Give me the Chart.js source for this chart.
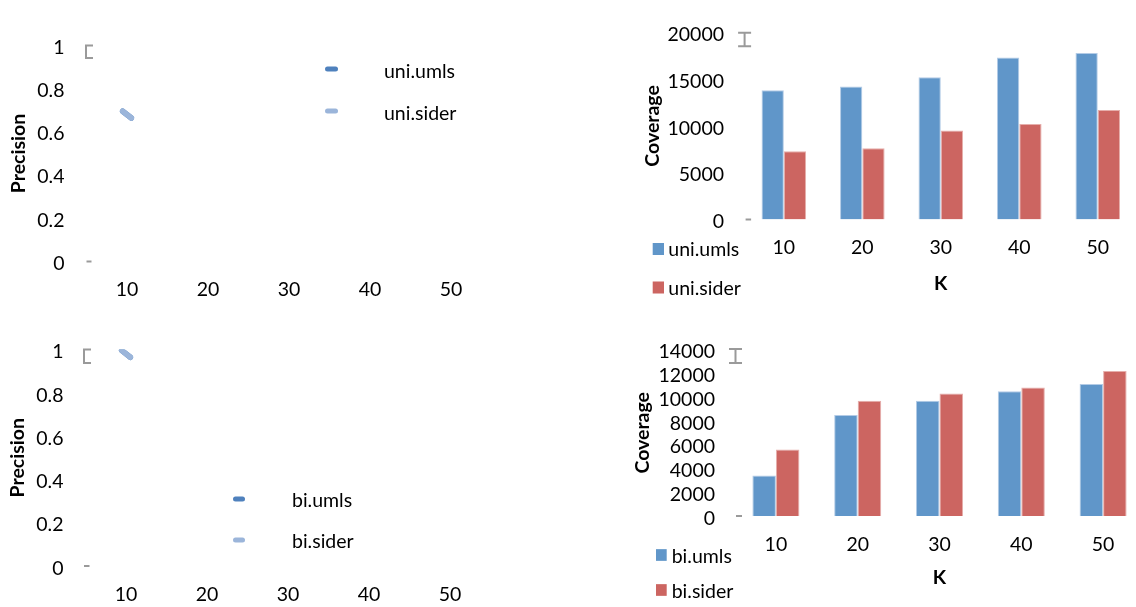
<!DOCTYPE html>
<html>
<head>
<meta charset="utf-8">
<title>Precision and Coverage by K</title>
<script src="https://cdn.jsdelivr.net/npm/chart.js@4.4.1/dist/chart.umd.min.js"></script>
<style>
  html, body { margin: 0; padding: 0; background: #fff; width: 1136px; height: 607px; overflow: hidden; }
  .panel { position: absolute; }
  .panel canvas { display: block; }
</style>
</head>
<body>
<div class="panel" style="left:0px;top:0px"><canvas id="uniPrecision" width="520" height="305"></canvas></div>
<div class="panel" style="left:600px;top:0px"><canvas id="uniCoverage" width="540" height="305"></canvas></div>
<div class="panel" style="left:0px;top:305px"><canvas id="biPrecision" width="520" height="302"></canvas></div>
<div class="panel" style="left:590px;top:305px"><canvas id="biCoverage" width="560" height="302"></canvas></div>

<script>
// ---- data ----
const kLabels = ['10', '20', '30', '40', '50'];

const uniUmlsPrecision = [0.68, null, null, null, null];
const uniSiderPrecision = [0.68, null, null, null, null];
const biUmlsPrecision = [0.98, null, null, null, null];
const biSiderPrecision = [0.98, null, null, null, null];

const uniUmlsCoverage = [13800, 14200, 15200, 17300, 17800];
const uniSiderCoverage = [7300, 7600, 9500, 10200, 11700];
const biUmlsCoverage = [3400, 8500, 9700, 10500, 11100];
const biSiderCoverage = [5600, 9700, 10300, 10800, 12200];

const precisionAxis = { min: 0, max: 1, step: 0.2 };
const uniCoverageAxis = { min: 0, max: 20000, step: 5000 };
const biCoverageAxis = { min: 0, max: 14000, step: 2000 };

// ---- styling ----
const FONT = 'Lato';
const TICK_SIZE = 19.5;
const DARK_BLUE = '#4f81bd';
const LIGHT_BLUE = '#9bb5da';
const BAR_BLUE = '#6096c9';
const BAR_BLUE_EDGE = '#b3cbe6';
const BAR_RED = '#cc6561';
const BAR_RED_EDGE = '#e6aeab';
const STUB_GRAY = '#9a9a9a';

Chart.defaults.font.family = FONT;
Chart.defaults.color = '#000';

// Short gray axis remnants: a cap at the top of the value axis and a tick at zero.
const axisStub = {
  id: 'axisStub',
  afterDraw(chart, args, o) {
    if (!o || !o.shape) return;
    const { ctx, chartArea: a } = chart;
    const x = a.left + o.dx;
    const y0 = a.top + o.y0;
    const y1 = a.top + o.y1;
    ctx.save();
    ctx.strokeStyle = STUB_GRAY;
    ctx.lineWidth = 2;
    ctx.lineCap = 'butt';
    ctx.beginPath();
    if (o.shape === 'bracket') {
      ctx.moveTo(x + o.cap, y0);
      ctx.lineTo(x, y0);
      ctx.lineTo(x, y1);
      ctx.lineTo(x + o.cap, y1);
    } else {
      ctx.moveTo(x - o.cap, y0); ctx.lineTo(x + o.cap, y0);
      ctx.moveTo(x, y0); ctx.lineTo(x, y1);
      ctx.moveTo(x - o.cap, y1); ctx.lineTo(x + o.cap, y1);
    }
    ctx.stroke();
    const yz = chart.scales.y.getPixelForValue(0);
    ctx.beginPath();
    ctx.moveTo(a.left + o.tick[0], yz);
    ctx.lineTo(a.left + o.tick[1], yz);
    ctx.stroke();
    ctx.restore();
  }
};

// Stacked legend drawn at a fixed spot of the canvas.
const panelLegend = {
  id: 'panelLegend',
  afterDraw(chart, args, o) {
    if (!o || o.x === undefined) return;
    const ctx = chart.ctx;
    ctx.save();
    chart.data.datasets.forEach((ds, i) => {
      const cy = o.y + i * o.gap;
      if (o.marker === 'line') {
        ctx.strokeStyle = ds.borderColor;
        ctx.lineWidth = 5;
        ctx.lineCap = 'round';
        ctx.beginPath();
        ctx.moveTo(o.x + 2.5, cy);
        ctx.lineTo(o.x + o.w - 2.5, cy);
        ctx.stroke();
      } else {
        ctx.fillStyle = ds.backgroundColor;
        ctx.fillRect(o.x, cy - o.h / 2, o.w, o.h);
      }
      ctx.fillStyle = '#000';
      ctx.font = `${TICK_SIZE}px ${FONT}`;
      ctx.textAlign = 'left';
      ctx.textBaseline = 'middle';
      ctx.fillText(ds.label, o.textX, cy + o.textDy);
    });
    ctx.restore();
  }
};

// Rounded ends for the short line markers.
const roundCaps = {
  id: 'roundCaps',
  beforeDatasetsDraw(chart) { chart.ctx.lineCap = 'round'; },
  afterDatasetsDraw(chart) { chart.ctx.lineCap = 'butt'; }
};

Chart.register(axisStub, panelLegend, roundCaps);

function buildScales(area, W, H, axis, opt) {
  return {
    x: {
      type: 'category',
      offset: true,
      grid: { display: false, drawTicks: false },
      border: { display: false },
      ticks: { padding: opt.xPad, font: { size: TICK_SIZE }, maxRotation: 0, autoSkip: false },
      title: opt.xTitle
        ? { display: true, text: opt.xTitle, font: { size: TICK_SIZE, weight: 'bold' }, padding: { top: 0, bottom: opt.xTitlePad } }
        : { display: false },
      afterFit(s) { s.height = H - area.b; }
    },
    y: {
      min: axis.min,
      max: axis.max,
      grid: { display: false, drawTicks: false },
      border: { display: false },
      ticks: {
        stepSize: axis.step,
        autoSkip: false,
        padding: opt.yPad,
        labelOffset: opt.yLabelOffset,
        font: { size: TICK_SIZE },
        callback: v => String(Math.round(v * 1000) / 1000)
      },
      title: { display: true, text: opt.yTitle, font: { size: TICK_SIZE, weight: 'bold' }, padding: { top: opt.yTitlePad, bottom: 0 } },
      afterFit(s) { s.width = area.l; }
    }
  };
}

function baseOptions(area, W, H, axis, opt) {
  return {
    responsive: false,
    animation: false,
    events: [],
    layout: { padding: { left: 0, top: area.t, right: W - area.r, bottom: 0 } },
    scales: buildScales(area, W, H, axis, opt),
    plugins: {
      legend: { display: false },
      tooltip: { enabled: false },
      axisStub: opt.stub,
      panelLegend: opt.legend
    }
  };
}

function precisionChart(id, W, H, area, names, values, opt) {
  // the second series is drawn over the first
  const mk = (label, data, color, order) => ({
    label, data, order,
    borderColor: color,
    backgroundColor: color,
    showLine: false,
    pointStyle: 'line',
    pointRadius: 5.5,
    pointBorderWidth: 5.5,
    pointRotation: 38
  });
  return new Chart(document.getElementById(id), {
    type: 'line',
    data: {
      labels: kLabels,
      datasets: [mk(names[0], values[0], DARK_BLUE, 1), mk(names[1], values[1], LIGHT_BLUE, 0)]
    },
    options: baseOptions(area, W, H, precisionAxis, opt)
  });
}

function coverageChart(id, W, H, area, names, values, axis, catPct, opt) {
  const mk = (label, data, fill, edge) => ({
    label, data,
    backgroundColor: fill,
    borderColor: edge,
    borderWidth: 1,
    categoryPercentage: catPct,
    barPercentage: 1
  });
  return new Chart(document.getElementById(id), {
    type: 'bar',
    data: {
      labels: kLabels,
      datasets: [mk(names[0], values[0], BAR_BLUE, BAR_BLUE_EDGE), mk(names[1], values[1], BAR_RED, BAR_RED_EDGE)]
    },
    options: baseOptions(area, W, H, axis, opt)
  });
}

function drawAll() {
  precisionChart('uniPrecision', 520, 305, { l: 86.5, t: 45.5, r: 491.5, b: 261.5 },
    ['uni.umls', 'uni.sider'], [uniUmlsPrecision, uniSiderPrecision], {
      xPad: 16.5, yPad: 22, yLabelOffset: 2, yTitle: 'Precision', yTitlePad: 7.5,
      stub: { shape: 'bracket', dx: -0.5, y0: 0, y1: 12.5, cap: 7, tick: [0, 5] },
      legend: { marker: 'line', x: 325, w: 13, y: 69, gap: 42, textX: 384, textDy: 2.5 }
    });

  precisionChart('biPrecision', 520, 302, { l: 85.5, t: 44.5, r: 490.5, b: 261 },
    ['bi.umls', 'bi.sider'], [biUmlsPrecision, biSiderPrecision], {
      xPad: 17.5, yPad: 22, yLabelOffset: 2.5, yTitle: 'Precision', yTitlePad: 6.5,
      stub: { shape: 'bracket', dx: -1.5, y0: 0, y1: 13.5, cap: 7, tick: [-1.5, 4] },
      legend: { marker: 'line', x: 233, w: 12, y: 194, gap: 41, textX: 292, textDy: 2 }
    });

  coverageChart('uniCoverage', 540, 305, { l: 144.6, t: 14.5, r: 537, b: 219.5 },
    ['uni.umls', 'uni.sider'], [uniUmlsCoverage, uniSiderCoverage], uniCoverageAxis, 0.568, {
      xPad: 16.5, yPad: 20.6, yLabelOffset: 2.5, yTitle: 'Coverage', yTitlePad: 41.5,
      xTitle: 'K', xTitlePad: 9.5,
      stub: { shape: 'ibeam', dx: 0, y0: 0.5, y1: 14, cap: 6.5, tick: [1, 6.5] },
      legend: { marker: 'box', x: 52.7, w: 11.3, h: 12, y: 249, gap: 38.5, textX: 68.3, textDy: 1 }
    });

  coverageChart('biCoverage', 560, 302, { l: 145, t: 44.5, r: 554, b: 211 },
    ['bi.umls', 'bi.sider'], [biUmlsCoverage, biSiderCoverage], biCoverageAxis, 0.575, {
      xPad: 17.5, yPad: 20, yLabelOffset: 2.5, yTitle: 'Coverage', yTitlePad: 41.5,
      xTitle: 'K', xTitlePad: 17.5,
      stub: { shape: 'ibeam', dx: 0.5, y0: -0.5, y1: 13.5, cap: 6.5, tick: [1, 7] },
      legend: { marker: 'box', x: 66, w: 10.7, h: 11.7, y: 250, gap: 35, textX: 81.7, textDy: 2 }
    });
}

if (document.fonts && document.fonts.load) {
  Promise.all([
    document.fonts.load(`${TICK_SIZE}px ${FONT}`),
    document.fonts.load(`bold ${TICK_SIZE}px ${FONT}`)
  ]).then(drawAll, drawAll);
} else {
  drawAll();
}
</script>
</body>
</html>
